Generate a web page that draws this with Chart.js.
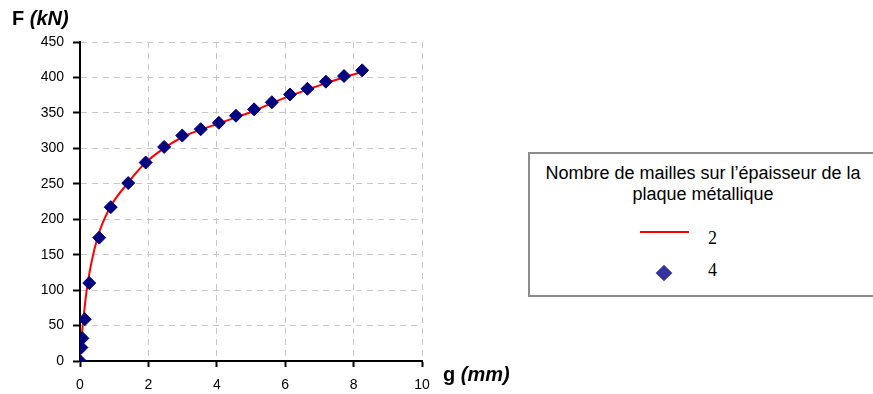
<!DOCTYPE html>
<html>
<head>
<meta charset="utf-8">
<script src="https://cdn.jsdelivr.net/npm/chart.js@4.4.1/dist/chart.umd.min.js"></script>
<style>
  html, body { margin: 0; padding: 0; background: #fff; overflow: hidden; }
  #wrap { position: relative; width: 873px; height: 394px; overflow: hidden; }
  #legend {
    position: absolute; left: 528px; top: 152px; width: 352px; height: 145px;
    border: 2px solid #8c8c8c; box-sizing: border-box; background: #fff;
    font-family: "Liberation Sans", Arial, sans-serif; font-size: 18px; color: #000;
  }
  #legend .title { position: absolute; left: 0; width: 346px; top: 9px; text-align: center; line-height: 21px; white-space: nowrap; }
  #legend .num { position: absolute; left: 178px; font-family: "Liberation Serif", "Times New Roman", serif; font-size: 18px; line-height: 20px; }
  #legend .line { position: absolute; left: 110px; top: 77px; width: 49px; height: 2px; background: #ff0000; }
  #legend .dia { position: absolute; left: 128px; top: 113px; width: 12px; height: 12px; background: #333399; transform: rotate(45deg) scale(0.98); }
</style>
</head>
<body>
<div id="wrap">
  <canvas id="chart" width="873" height="394"></canvas>
  <div id="legend">
    <div class="title">Nombre de mailles sur l’épaisseur de la<br>plaque métallique</div>
    <span class="line"></span><span class="num" style="top:74px">2</span>
    <span class="dia"></span><span class="num" style="top:106px">4</span>
  </div>
</div>
<script>
// series "2" (red line) and "4" (blue diamonds), g in mm, F in kN
const g2 = [0, 0.02, 0.05, 0.1, 0.22, 0.5, 0.86, 1.38, 1.9, 2.45, 3.0, 3.52, 4.05, 4.58, 5.1, 5.62, 6.14, 6.66, 7.19, 7.72, 8.25];
const F2 = [0, 20, 35, 60, 108, 172, 215, 250, 279, 300, 316, 326, 335, 344, 353, 364, 374, 383, 392, 400, 408];
const g4 = [0, 0.04, 0.07, 0.14, 0.27, 0.56, 0.9, 1.41, 1.92, 2.46, 2.99, 3.53, 4.06, 4.56, 5.09, 5.61, 6.14, 6.65, 7.19, 7.72, 8.25];
const F4 = [0, 19, 32, 59, 110, 174, 217, 251, 280, 302, 318, 327, 336, 346, 355, 365, 376, 384, 394, 402, 410];
const xTicks = [0, 2, 4, 6, 8, 10];
const yTicks = [0, 50, 100, 150, 200, 250, 300, 350, 400, 450];

const pts = (xs, ys) => xs.map((x, i) => ({ x: x, y: ys[i] }));

// axis titles: "F (kN)" top left, "g (mm)" right of the x axis
const axisTitles = {
  id: 'axisTitles',
  afterDraw(chart) {
    const ctx = chart.ctx;
    ctx.save();
    ctx.fillStyle = '#000';
    ctx.textBaseline = 'alphabetic';
    const draw = (x, y, a, b) => {
      ctx.font = 'bold 20px "Liberation Sans", Arial, sans-serif';
      ctx.fillText(a, x, y);
      const w = ctx.measureText(a).width;
      ctx.font = 'italic bold 20px "Liberation Sans", Arial, sans-serif';
      ctx.fillText(b, x + w, y);
    };
    draw(12, 25, 'F ', '(kN)');
    draw(443, 381, 'g ', '(mm)');
    ctx.restore();
  }
};

const tickFont = { family: '"Liberation Sans", Arial, sans-serif', size: 14 };

new Chart(document.getElementById('chart'), {
  type: 'scatter',
  data: {
    datasets: [
      {
        label: '4',
        data: pts(g4, F4),
        showLine: false,
        pointStyle: 'rectRot',
        pointRadius: 6.5,
        pointBackgroundColor: '#000080',
        pointBorderColor: '#000080',
        pointBorderWidth: 1
      },
      {
        label: '2',
        data: pts(g2, F2),
        showLine: true,
        borderColor: '#ff0000',
        borderWidth: 2,
        pointRadius: 0,
        cubicInterpolationMode: 'monotone'
      }
    ]
  },
  options: {
    responsive: false,
    animation: false,
    layout: { padding: { top: 42, right: 451, left: 0, bottom: 0 } },
    plugins: { legend: { display: false }, tooltip: { enabled: false } },
    scales: {
      x: {
        type: 'linear',
        min: 0, max: 10,
        afterBuildTicks: s => { s.ticks = xTicks.map(v => ({ value: v })); },
        afterFit: s => { s.height = 33; },
        grid: { color: '#c8c8c8', lineWidth: 1, tickColor: '#000', tickLength: 6, tickWidth: 2 },
        border: { display: true, color: '#000', width: 2, dash: [6, 5] },
        ticks: { color: '#000', padding: 10, font: tickFont }
      },
      y: {
        type: 'linear',
        min: 0, max: 450,
        afterBuildTicks: s => { s.ticks = yTicks.map(v => ({ value: v })); },
        afterFit: s => { s.width = 80; },
        grid: { color: '#c8c8c8', lineWidth: 1, tickColor: '#000', tickLength: 7, tickWidth: 2 },
        border: { display: true, color: '#000', width: 2, dash: [6, 5] },
        ticks: { color: '#000', padding: 9, font: tickFont }
      }
    }
  },
  plugins: [axisTitles]
});
</script>
</body>
</html>
